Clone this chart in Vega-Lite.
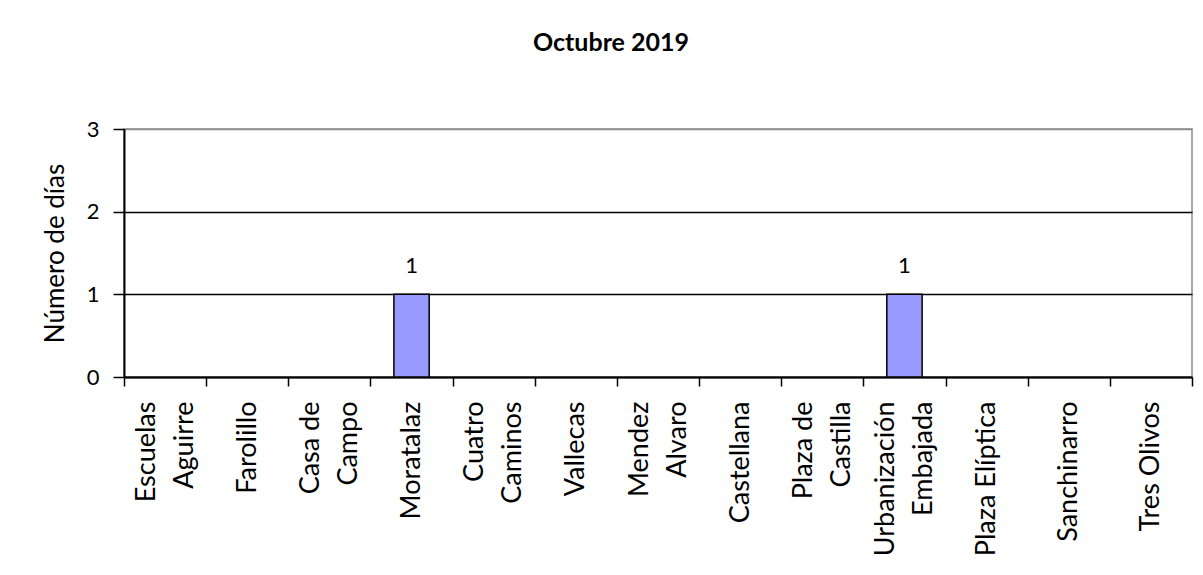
{
  "$schema": "https://vega.github.io/schema/vega-lite/v6.json",
  "width": 1068,
  "height": 248,
  "autosize": {"type": "none"},
  "padding": {"left": 124, "top": 129, "right": 11, "bottom": 198},
  "background": "white",
  "title": {
    "text": "Octubre 2019",
    "font": "Lato",
    "fontSize": 25,
    "fontWeight": "bold",
    "color": "black",
    "anchor": "middle",
    "frame": "group",
    "dx": -47,
    "offset": 62
  },
  "data": {
    "values": [
      {"estacion": "Escuelas\nAguirre", "dias": 0},
      {"estacion": "Farolillo", "dias": 0},
      {"estacion": "Casa de\nCampo", "dias": 0},
      {"estacion": "Moratalaz", "dias": 1},
      {"estacion": "Cuatro\nCaminos", "dias": 0},
      {"estacion": "Vallecas", "dias": 0},
      {"estacion": "Mendez\nAlvaro", "dias": 0},
      {"estacion": "Castellana", "dias": 0},
      {"estacion": "Plaza de\nCastilla", "dias": 0},
      {"estacion": "Urbanización\nEmbajada", "dias": 1},
      {"estacion": "Plaza Elíptica", "dias": 0},
      {"estacion": "Sanchinarro", "dias": 0},
      {"estacion": "Tres Olivos", "dias": 0}
    ]
  },
  "encoding": {
    "x": {
      "field": "estacion",
      "type": "nominal",
      "sort": null,
      "scale": {"paddingInner": 0, "paddingOuter": 0},
      "axis": {
        "title": null,
        "labelAngle": -90,
        "labelAlign": "right",
        "labelBaseline": "middle",
        "labelExpr": "indexof(datum.label, '\\n') >= 0 ? [split(datum.label, '\\n')[0], '\u200b', split(datum.label, '\\n')[1]] : ['\u200b', datum.label]",
        "labelLineHeight": 19,
        "labelOffset": -19,
        "labelFont": "Lato",
        "labelFontSize": 27,
        "labelColor": "black",
        "labelPadding": 15,
        "labelOverlap": false,
        "tickBand": "extent",
        "tickSize": 9,
        "tickColor": "black",
        "tickWidth": 1.5,
        "domainColor": "black",
        "domainWidth": 2,
        "grid": false
      }
    },
    "y": {
      "field": "dias",
      "type": "quantitative",
      "scale": {"domain": [0, 3], "nice": false},
      "axis": {
        "title": "Número de días",
        "titleFont": "Lato",
        "titleFontSize": 26,
        "titleFontWeight": "normal",
        "titleColor": "black",
        "titlePadding": 18,
        "values": [0, 1, 2, 3],
        "format": "d",
        "labelFont": "Lato",
        "labelFontSize": 22,
        "labelColor": "black",
        "labelPadding": 14,
        "tickSize": 11,
        "tickColor": "black",
        "tickWidth": 1.5,
        "domainColor": "black",
        "domainWidth": 2,
        "grid": true,
        "gridColor": {"condition": {"test": "datum.value === 3", "value": "#8c8c8c"}, "value": "black"},
        "gridWidth": 1.5
      }
    }
  },
  "layer": [
    {
      "mark": {"type": "bar", "width": {"band": 0.43}, "fill": "#9999ff", "stroke": "black"},
      "encoding": {
        "strokeWidth": {"condition": {"test": "datum.dias > 0", "value": 1.5}, "value": 0}
      }
    },
    {
      "mark": {"type": "text", "baseline": "bottom", "dy": -16, "font": "Lato", "fontSize": 22, "color": "black"},
      "encoding": {
        "text": {"condition": {"test": "datum.dias > 0", "field": "dias", "type": "quantitative"}, "value": ""}
      }
    }
  ],
  "config": {
    "view": {"stroke": "#8c8c8c", "strokeWidth": 1.5}
  }
}
